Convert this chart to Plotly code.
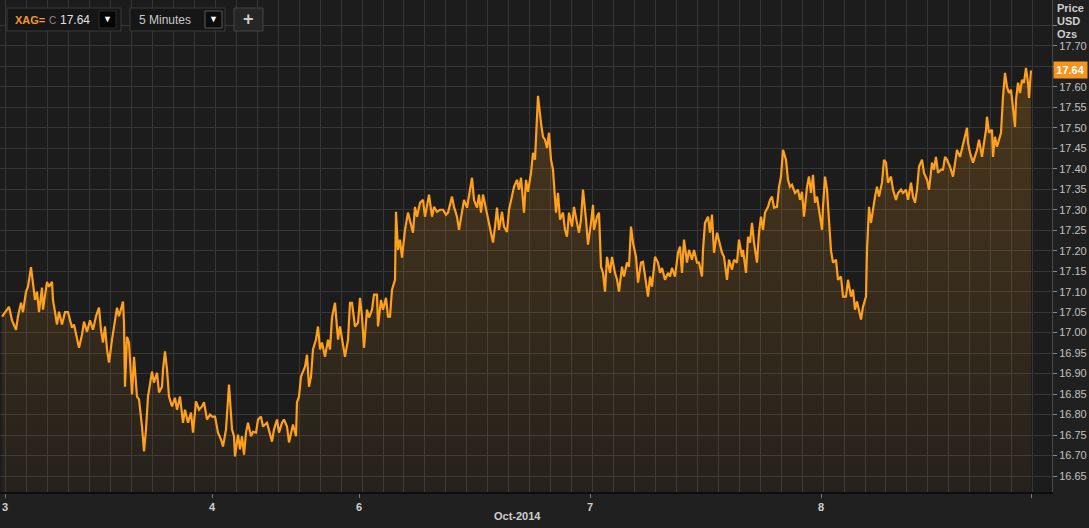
import plotly.graph_objects as go

# ---- data (x = chart bar position, y = price USD/oz) ----
bar = [2, 7, 9, 12, 16, 18, 21, 23, 26, 28, 31, 33, 35, 37, 39, 42, 43, 47, 49, 52, 53, 57, 59, 62, 65, 68,
       72, 74, 77, 79, 82, 84, 87, 90, 93, 96, 99, 101, 103, 105, 107, 109, 112, 115, 117, 119, 123, 124, 125,
       127, 129, 132, 134, 137, 139, 142, 144, 146, 148, 152, 154, 157, 159, 162, 163, 165, 167, 169, 172, 175,
       177, 180, 183, 185, 188, 191, 193, 196, 199, 202, 204, 207, 210,
       212, 215, 218, 221, 223, 226, 229, 232, 234, 235, 238, 240, 242, 244, 246, 248, 251, 253, 256, 258, 261,
       263, 267, 269, 272, 274, 277, 279, 282, 284, 287, 289, 291, 293, 296, 297, 299, 301, 303, 305, 307, 309,
       311, 313, 316, 318, 320, 322, 325, 328, 330, 332, 335, 338, 340, 342, 345, 348, 350, 352, 355, 358, 360,
       362, 364, 367, 369, 372, 374, 377, 378, 381, 383, 386, 388, 390, 392, 395, 396, 398, 400, 402, 405, 408,
       410, 413, 415, 417, 420, 423, 425, 427, 429, 432, 434, 437, 440, 443, 446, 448, 452, 454, 457, 459, 462,
       464, 467, 469, 472, 474, 477, 479, 481, 483, 486, 488, 491, 493, 495, 497, 499, 502, 504, 507, 509, 512,
       514, 517, 519, 521, 523, 524, 526, 528, 531, 533, 535, 537, 538, 541, 543, 545, 547, 549, 551, 553, 554,
       556, 558, 560, 563, 565, 567, 569, 572, 574, 577, 579, 581, 583, 586, 588, 591, 593, 594, 597, 599, 601,
       603, 605, 607, 610, 612, 615,
       617, 619, 622, 624, 627, 629, 631, 633, 636, 638, 641, 643, 646, 648, 650, 652, 655, 658, 660, 662, 665,
       668, 670, 672, 675, 678, 680, 682, 684, 687, 689, 692, 694, 697, 699, 702, 703, 705, 708, 710, 712, 714,
       717, 719, 722, 724, 727, 729, 732, 734, 737, 739, 742, 743, 746, 748, 750, 752, 754, 757, 759, 761, 763,
       765, 768, 770, 772, 774, 777, 779, 781, 783, 786, 788, 790, 792, 795, 798, 800, 802, 804, 807, 809, 811,
       813, 815, 817, 819, 822, 823, 825, 827, 829, 831, 833,
       836, 838, 841, 843, 846, 848, 851, 853, 855, 857, 859, 861, 863, 866, 867, 869, 871, 873, 875, 877, 879,
       882, 884, 886, 888, 891, 893, 896, 898, 901, 903, 906, 908, 911, 913, 915, 917, 919, 922, 924, 927, 929,
       932, 934, 936, 938, 941, 943, 945, 947, 950, 953, 955, 957, 960, 963, 965, 967, 968, 970, 973, 975, 977,
       979, 982, 984, 986, 987, 989, 992, 993, 995, 997, 999, 1001, 1003, 1005, 1007, 1009, 1011, 1013, 1015,
       1016, 1018, 1020, 1022, 1024, 1026, 1028, 1029, 1031]

price = [17.039, 17.056, 17.063, 17.030, 17.007, 17.040, 17.073, 17.050, 17.100, 17.112, 17.160, 17.120, 17.080,
         17.100, 17.050, 17.110, 17.056, 17.124, 17.112, 17.124, 17.080, 17.020, 17.051, 17.020, 17.050, 17.050,
         17.012, 17.020, 16.983, 16.963, 16.995, 17.027, 17.002, 17.030, 17.007, 17.040, 17.061, 17.007, 16.976,
         17.015, 16.959, 16.927, 16.983, 17.037, 17.061, 17.040, 17.076, 17.024, 16.868, 16.990, 16.976, 16.849,
         16.941, 16.844, 16.837, 16.771, 16.710, 16.764, 16.844, 16.905, 16.878, 16.902, 16.854, 16.868, 16.910,
         16.954, 16.910, 16.844, 16.820, 16.841, 16.812, 16.844, 16.780, 16.812, 16.780, 16.805, 16.756, 16.832,
         16.812, 16.820, 16.830, 16.788, 16.800,
         16.795, 16.795, 16.756, 16.739, 16.722, 16.764, 16.873, 16.764, 16.747, 16.698, 16.751, 16.715, 16.747,
         16.702, 16.756, 16.780, 16.747, 16.758, 16.756, 16.788, 16.795, 16.771, 16.780, 16.764, 16.734, 16.764,
         16.788, 16.756, 16.780, 16.788, 16.771, 16.732, 16.756, 16.776, 16.747, 16.830, 16.844, 16.893, 16.905,
         16.917, 16.946, 16.868, 16.893, 16.959, 16.983, 17.015, 16.959, 16.976, 16.941, 16.983, 16.959, 17.037,
         17.073, 16.983, 17.015, 16.983, 16.941, 16.983, 17.073, 17.073, 17.015, 17.024, 17.085, 17.039, 16.963,
         17.056, 17.037, 17.056, 17.093, 17.093, 17.015, 17.080, 17.056, 17.085, 17.039, 17.039, 17.105, 17.129,
         17.295, 17.202, 17.227, 17.183, 17.251, 17.293,
         17.276, 17.244, 17.307, 17.283, 17.317, 17.324, 17.283, 17.307, 17.337, 17.283, 17.307, 17.295, 17.300,
         17.300, 17.288, 17.293, 17.332, 17.307, 17.283, 17.251, 17.293, 17.324, 17.305, 17.332, 17.378, 17.324,
         17.305, 17.337, 17.293, 17.337, 17.300, 17.283, 17.244, 17.220, 17.259, 17.305, 17.251, 17.295, 17.259,
         17.246, 17.300, 17.332, 17.356, 17.373, 17.349, 17.378, 17.317, 17.293, 17.373, 17.344, 17.390, 17.439,
         17.422, 17.519, 17.578, 17.512, 17.478, 17.471, 17.451, 17.488, 17.422, 17.398, 17.356, 17.293, 17.341,
         17.276, 17.293, 17.251, 17.234, 17.293, 17.259, 17.307, 17.268, 17.244, 17.276, 17.349, 17.276, 17.215,
         17.268, 17.312, 17.251, 17.283, 17.293, 17.161, 17.146, 17.100, 17.185, 17.146, 17.185, 17.146,
         17.130, 17.100, 17.161, 17.137, 17.171, 17.161, 17.259, 17.220, 17.185, 17.122, 17.171, 17.173, 17.122,
         17.088, 17.137, 17.112, 17.185, 17.171, 17.146, 17.158, 17.129, 17.146, 17.137, 17.158, 17.137, 17.195,
         17.210, 17.146, 17.227, 17.171, 17.202, 17.178, 17.202, 17.171, 17.171, 17.137, 17.202, 17.268, 17.283,
         17.244, 17.288, 17.195, 17.244, 17.227, 17.195, 17.185, 17.129, 17.178, 17.154, 17.178, 17.171, 17.227,
         17.185, 17.202, 17.146, 17.234, 17.220, 17.268, 17.220, 17.171, 17.244, 17.283, 17.251, 17.293, 17.307,
         17.324, 17.332, 17.305, 17.307, 17.356, 17.381, 17.446, 17.422, 17.373, 17.356, 17.361, 17.341, 17.349,
         17.324, 17.344, 17.283, 17.356, 17.381, 17.341, 17.385, 17.317, 17.332, 17.300, 17.251, 17.307, 17.381,
         17.349, 17.259, 17.200, 17.171,
         17.178, 17.129, 17.137, 17.088, 17.088, 17.129, 17.088, 17.105, 17.056, 17.076, 17.049, 17.032, 17.063,
         17.088, 17.202, 17.307, 17.268, 17.307, 17.332, 17.356, 17.332, 17.366, 17.422, 17.415, 17.366, 17.381,
         17.349, 17.324, 17.341, 17.349, 17.341, 17.349, 17.324, 17.366, 17.332, 17.317, 17.349, 17.405, 17.422,
         17.390, 17.373, 17.349, 17.415, 17.398, 17.429, 17.390, 17.398, 17.398, 17.429, 17.422, 17.405, 17.381,
         17.415, 17.446, 17.429, 17.459, 17.478, 17.500, 17.463, 17.439, 17.415, 17.429, 17.446, 17.471, 17.429,
         17.463, 17.495, 17.527, 17.488, 17.495, 17.429, 17.478, 17.454, 17.471, 17.488, 17.576, 17.634, 17.600,
         17.585, 17.593, 17.544, 17.502, 17.568, 17.610, 17.585, 17.617, 17.610, 17.646, 17.610, 17.573, 17.640]

day_ticks = [5, 212, 359, 590, 821, 1031]
day_labels = ["3", "4", "6", "7", "8", ""]
y_ticks = [16.65, 16.70, 16.75, 16.80, 16.85, 16.90, 16.95, 17.00, 17.05, 17.10, 17.15, 17.20, 17.25,
           17.30, 17.35, 17.40, 17.45, 17.50, 17.55, 17.60, 17.65, 17.70, 17.75]
hidden_ticks = [17.65, 17.75]   # covered by the last-price tag / axis title
y_labels = ["" if v in hidden_ticks else f"{v:.2f}" for v in y_ticks]
last_price = 17.64
ric = "XAG="
interval = "5 Minutes"
axis_title = ["Price", "USD", "Ozs"]
month_label = "Oct-2014"

W, H = 1089, 528
ML, MR, MT, MB = 0, 37, 0, 36
PW, PH = W - ML - MR, H - MT - MB
FONT = "Liberation Sans, Arial, sans-serif"
ORANGE = "#ffa01c"


def px(x):
    return x / PW


def py(y):
    return 1 - y / PH


fig = go.Figure()
fig.add_trace(go.Scatter(
    x=bar, y=price, mode="lines",
    line=dict(color=ORANGE, width=2.2),
    fill="tozeroy",
    fillgradient=dict(type="vertical",
                      colorscale=[[0, "rgba(255,160,30,0.04)"], [1, "rgba(255,160,30,0.21)"]],
                      start=16.61, stop=17.65),
    hoverinfo="skip", showlegend=False,
))

shapes = []
annotations = []


def box(x0, y0, x1, y1, fill, line):
    shapes.append(dict(type="rect", xref="paper", yref="paper", x0=px(x0), x1=px(x1), y0=py(y1), y1=py(y0),
                       fillcolor=fill, line=dict(color=line, width=1), layer="above"))


def label(x, y, text, size, color, anchor="left", bold=False):
    annotations.append(dict(xref="paper", yref="paper", x=px(x), y=py(y), text=f"<b>{text}</b>" if bold else text,
                            showarrow=False, xanchor=anchor, yanchor="middle", borderpad=0,
                            font=dict(family=FONT, size=size, color=color)))


# toolbar
box(7, 8, 121, 31, "#161616", "#3a3a3a")
box(99, 11, 116, 28, "#060606", "#2a2a2a")
box(130, 8, 225, 31, "#161616", "#3a3a3a")
box(205, 11, 222, 28, "#0c0c0c", "#5a5a5a")
box(234, 8, 263, 31, "#262626", "#444444")
label(14, 20, ric, 11, "#f39a1e", bold=True)
label(48, 20, "C", 10, "#8a8a8a")
label(58.5, 20, f"{last_price:.2f}", 12, "#e0e0e0")
label(107.5, 19, "▼", 9, "#ffffff", anchor="center")
label(138, 20, interval, 12, "#c8c8c8")
label(213.5, 19, "▼", 9, "#ffffff", anchor="center")
label(248.5, 19, "+", 18, "#cccccc", anchor="center", bold=True)

# axis title at the right
for i, t in enumerate(axis_title):
    annotations.append(dict(xref="paper", yref="paper", x=px(1056), y=py(8 + 13 * i), xanchor="left",
                            yanchor="middle", text=f"<b>{t}</b>", showarrow=False, borderpad=0,
                            font=dict(family=FONT, size=11, color="#cfcfcf")))
# last price tag
annotations.append(dict(xref="paper", yref="y", x=1, y=last_price, xanchor="left", yanchor="middle", xshift=1,
                        text=f"<b>{last_price:.2f}</b>", showarrow=False, bgcolor="#f7941d",
                        width=33, height=16, borderpad=0,
                        font=dict(family=FONT, size=11, color="#ffffff")))
# month label
annotations.append(dict(xref="x", yref="paper", x=517, y=0, yanchor="middle", xanchor="center", yshift=-24,
                        text=f"<b>{month_label}</b>", showarrow=False,
                        font=dict(family=FONT, size=11, color="#cfcfcf")))

fig.update_layout(
    width=W, height=H, margin=dict(l=ML, r=MR, t=MT, b=MB, pad=0),
    paper_bgcolor="#202020", plot_bgcolor="#1c1c1c",
    showlegend=False, shapes=shapes, annotations=annotations,
    font=dict(family=FONT),
    xaxis=dict(range=[0, PW], tickmode="array", tickvals=day_ticks,
               ticktext=[f"<b>{t}</b>" for t in day_labels],
               showgrid=False, zeroline=False, ticks="outside", ticklen=4, tickcolor="#777777",
               tickfont=dict(family=FONT, size=11, color="#d0d0d0"),
               showline=True, linecolor="#0e0e0e", linewidth=2,
               minor=dict(tickmode="linear", tick0=5.8, dtick=20.957, showgrid=True,
                          gridcolor="#363636", gridwidth=1, ticks="")),
    yaxis=dict(side="right", range=[16.611, 17.812], tickmode="array", tickvals=y_ticks, ticktext=y_labels,
               showgrid=True, gridcolor="#363636", gridwidth=1, zeroline=False,
               ticks="outside", ticklen=4, tickcolor="#888888",
               tickfont=dict(family=FONT, size=11, color="#c0c0c0"),
               showline=True, linecolor="#4a4a4a", linewidth=1),
)

fig.write_html("out.html", config={"displayModeBar": False},
               post_script="document.body.style.margin='0';document.body.style.background='#202020';")
